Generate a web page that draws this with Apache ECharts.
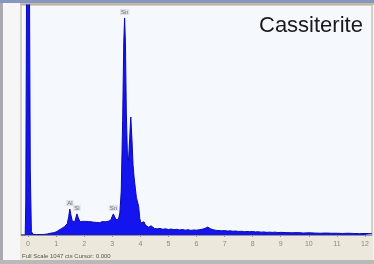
<!DOCTYPE html>
<html>
<head>
<meta charset="utf-8">
<script src="https://cdn.jsdelivr.net/npm/echarts@6/dist/echarts.min.js"></script>
<style>
  html, body { margin: 0; padding: 0; background: #f2f2f2; }
  #main-chart { width: 374px; height: 264px; }
</style>
</head>
<body>
<div id="main-chart"></div>
<script>
// EDS spectrum - Cassiterite

// energy (keV) and counts
const energy = [
  -0.25, -0.10, -0.08, -0.05, 0.00, 0.05, 0.08, 0.12, 0.18, 0.30, 0.50, 0.60,
  0.70, 0.80, 0.90, 1.00, 1.10, 1.20, 1.30, 1.40, 1.45, 1.49, 1.53, 1.58,
  1.62, 1.67, 1.74, 1.79, 1.85, 1.90, 1.95, 2.00, 2.05, 2.10, 2.15, 2.20,
  2.25, 2.30, 2.35, 2.40, 2.45, 2.50, 2.55, 2.60, 2.65, 2.70, 2.75, 2.80,
  2.85, 2.90, 2.95, 3.00, 3.04, 3.08, 3.13, 3.18, 3.22, 3.27, 3.32, 3.37,
  3.41, 3.44, 3.47, 3.50, 3.54, 3.58, 3.62, 3.66, 3.70, 3.74, 3.78, 3.82,
  3.86, 3.90, 3.94, 3.98, 4.02, 4.07, 4.13, 4.18, 4.24, 4.30, 4.38, 4.44,
  4.50, 4.60, 4.70, 4.80, 4.90, 5.00, 5.10, 5.20, 5.30, 5.40, 5.50, 5.60,
  5.70, 5.80, 5.90, 6.00, 6.10, 6.20, 6.30, 6.40, 6.45, 6.50, 6.60, 6.70,
  6.80, 6.90, 7.00, 7.10, 7.20, 7.30, 7.40, 7.50, 7.60, 7.70, 7.80, 7.90,
  8.00, 8.10, 8.20, 8.30, 8.40, 8.50, 8.60, 8.70, 8.80, 8.90, 9.00, 9.20,
  9.40, 9.60, 9.80, 10.00, 10.20, 10.40, 10.60, 10.80, 11.00, 11.20, 11.40, 11.60,
  11.80, 12.00, 12.25
];
const counts = [
  0, 0, 150, 1200, 1200, 1200, 300, 15, 3, 2, 2, 3,
  5, 8, 10, 14, 22, 30, 38, 52, 85, 118, 90, 62,
  55, 62, 96, 78, 60, 58, 62, 58, 62, 57, 61, 56,
  60, 63, 58, 62, 57, 60, 56, 59, 61, 57, 60, 58,
  62, 60, 68, 85, 96, 88, 70, 66, 72, 100, 200, 520,
  880, 988, 870, 560, 360, 340, 440, 537, 440, 320, 260, 215,
  170, 173, 130, 75, 55, 48, 60, 45, 36, 35, 42, 35,
  30, 28, 30, 26, 28, 25, 27, 24, 26, 23, 25, 22,
  24, 21, 23, 22, 24, 26, 30, 36, 34, 28, 24, 21,
  20, 19, 20, 18, 19, 17, 18, 16, 17, 15, 16, 15,
  16, 14, 15, 13, 14, 12, 13, 12, 13, 11, 12, 11,
  10, 11, 9, 10, 9, 8, 9, 8, 8, 7, 8, 7,
  6, 7, 6
];

// peak labels
const peakNames = ['Sn', 'Al', 'Si', 'Sn'];
const peakEnergy = [3.44, 1.49, 1.74, 3.04];
const peakCounts = [988, 118, 96, 96];

// axis ticks
const tickValues = [0, 1, 2, 3, 4, 5, 6, 7, 8, 9, 10, 11, 12];

const fullScale = 1047;

const chart = echarts.init(document.getElementById('main-chart'));

chart.setOption({
  backgroundColor: '#f6f6f6',
  animation: false,
  grid: {
    left: 21, top: 5, right: 2, bottom: 29,
    show: true,
    backgroundColor: '#f5f8fd',
    borderColor: '#b4ac96',
    borderWidth: 1
  },
  xAxis: {
    type: 'value',
    min: -0.25,
    max: 12.25,
    axisLine: { show: true, onZero: false, lineStyle: { color: '#9a9688', width: 1 } },
    axisTick: { show: true, customValues: tickValues, length: 2, lineStyle: { color: '#9a9688' } },
    axisLabel: {
      customValues: tickValues,
      color: '#8a8a8a',
      fontSize: 7,
      fontFamily: 'Liberation Sans',
      margin: 6
    },
    splitLine: { show: false }
  },
  yAxis: {
    type: 'value',
    min: 0,
    max: fullScale,
    show: false,
    splitLine: { show: false }
  },
  graphic: [
    // outer frame pieces
    { type: 'rect', z: -10, shape: { x: 0, y: 0, width: 374, height: 3 }, style: { fill: '#8796bf' } },
    { type: 'rect', z: -10, shape: { x: 0, y: 3, width: 3, height: 261 }, style: { fill: '#a9a9b0' } },
    { type: 'rect', z: -10, shape: { x: 20, y: 3, width: 354, height: 2 }, style: { fill: '#c4bca6' } },
    { type: 'rect', z: -10, shape: { x: 20, y: 236, width: 353, height: 24 }, style: { fill: '#ece8dc' } },
    { type: 'rect', z: -10, shape: { x: 0, y: 260, width: 374, height: 4 }, style: { fill: '#b9b9b9' } },
    {
      type: 'text', left: 22, top: 253,
      style: {
        text: 'Full Scale ' + fullScale + ' cts Cursor: 0.000',
        fill: '#555555', font: '6px "Liberation Sans"'
      }
    },
    {
      type: 'text', left: 259, top: 15,
      style: { text: 'Cassiterite', fill: '#1a1a1a', font: '22px "Liberation Sans"' }
    }
  ],
  series: [
    {
      name: 'spectrum',
      type: 'line',
      data: energy.map((e, i) => [e, counts[i]]),
      showSymbol: false,
      smooth: false,
      clip: true,
      lineStyle: { color: '#0a0ab4', width: 1 },
      areaStyle: { color: '#1414ee', opacity: 1 }
    },
    {
      name: 'labels',
      type: 'scatter',
      symbolSize: 0,
      data: peakEnergy.map((e, i) => ({ value: [e, peakCounts[i]], name: peakNames[i] })),
      label: {
        show: true,
        position: 'top',
        distance: 3,
        formatter: p => p.name,
        color: '#555555',
        fontSize: 6,
        fontFamily: 'Liberation Sans',
        backgroundColor: 'rgba(200,200,205,0.6)',
        padding: [0, 1]
      }
    }
  ]
});
</script>
</body>
</html>
